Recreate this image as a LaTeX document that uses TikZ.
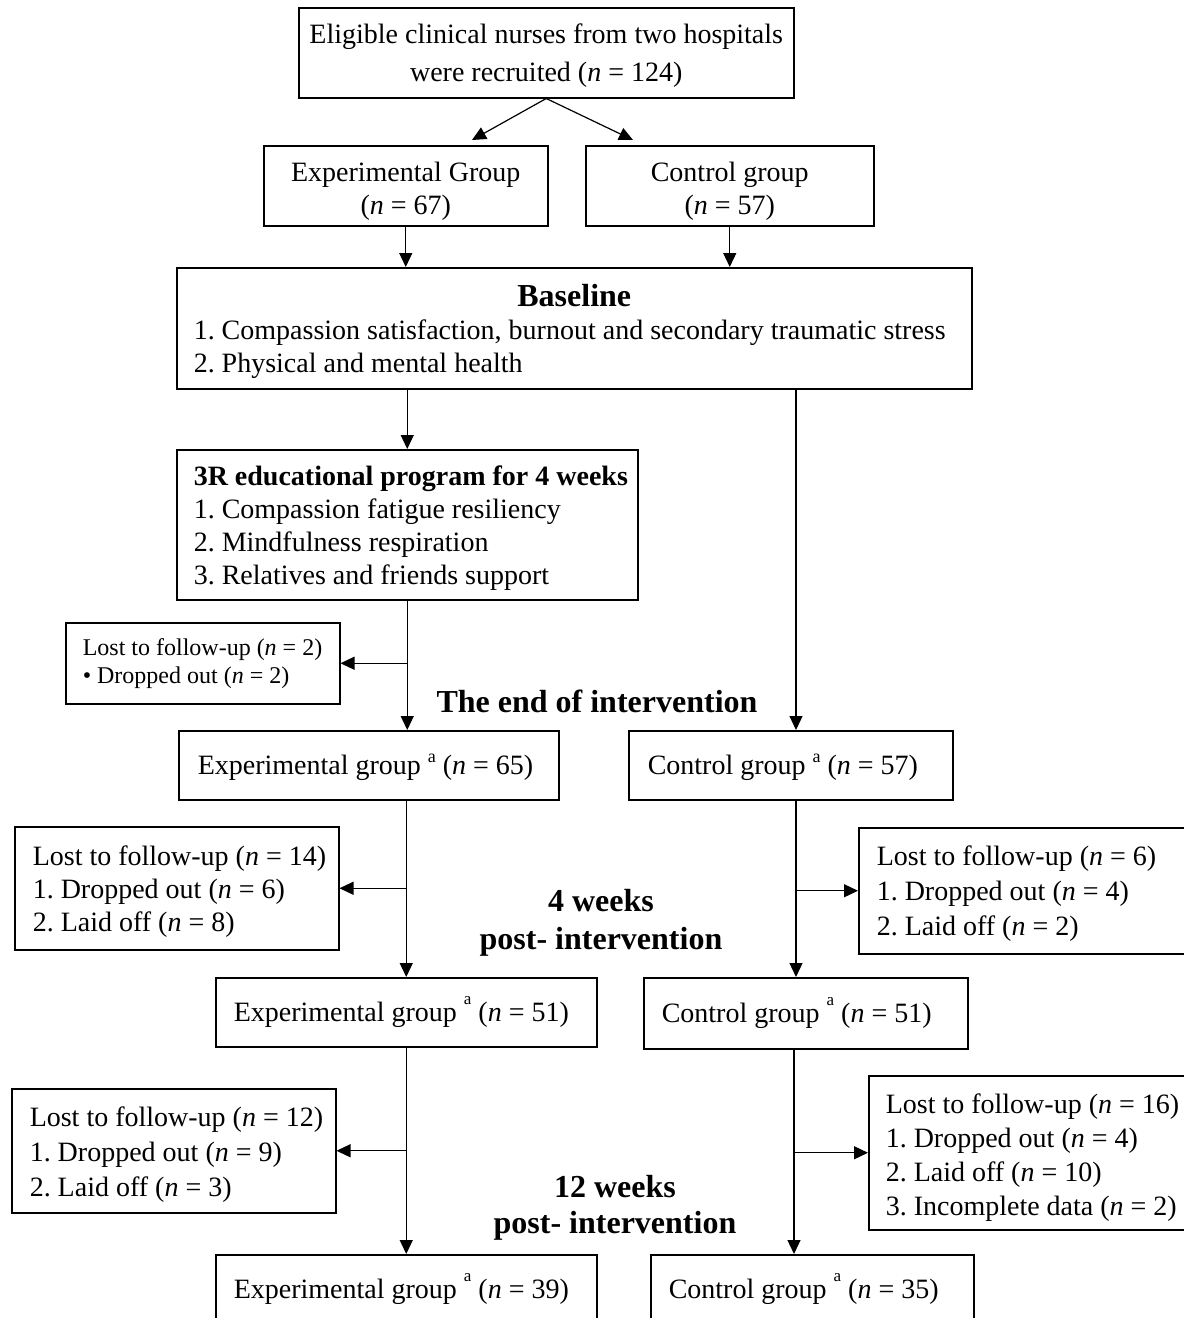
\documentclass[tikz,border=0pt]{standalone}
\usepackage{fontspec}
\setmainfont{Liberation Serif}
\usetikzlibrary{arrows.meta,calc}
\newcommand\fsz[2]{\fontsize{#1}{#2}\selectfont}
\newcommand\tx[1]{\spaceskip=0pt\xspaceskip=0pt\frenchspacing\rule{0pt}{#1}}
\newcommand\supLow{\raisebox{12pt}{\fsz{18}{18}a}}
\newcommand\supHigh{\raisebox{17pt}{\fsz{17}{17}a}}
\tikzset{
  boxc/.style={draw, line width=1.5pt, anchor=north west, inner ysep=0pt, align=center, font=\fsz{28}{33}},
  boxl/.style={draw, line width=1.5pt, anchor=north west, inner ysep=0pt, align=left, font=\fsz{28}{34}},
  arr/.style={line width=1.2pt, -{Triangle[length=14pt,width=13pt]}},
  head/.style={font=\fsz{32}{37}\bfseries, align=center, inner sep=0pt},
}
\begin{document}
\begin{tikzpicture}[x=1pt, y=-1pt]
\useasboundingbox (0,0) rectangle (1184,1318);
\clip (0,0) rectangle (1184,1318);

% boxes
\node[boxc, text width=479pt, inner xsep=8pt, minimum height=90pt, font=\fsz{28}{38}] (top) at (298,7)
  {\tx{25.5pt}\mbox{Eligible clinical nurses from two hospitals}\\\mbox{were recruited (\textit{n} = 124)}};
\node[boxc, text width=264pt, inner xsep=10pt, minimum height=80pt] (expG) at (263,145)
  {\tx{29.5pt}\mbox{Experimental Group}\\\mbox{(\textit{n} = 67)}};
\node[boxc, text width=268pt, inner xsep=10pt, minimum height=80pt] (ctlG) at (585,145)
  {\tx{29.5pt}\mbox{Control group}\\\mbox{(\textit{n} = 57)}};
\node[boxl, text width=761pt, inner xsep=17pt, minimum height=121pt, font=\fsz{28}{33}] (base) at (176,267)
  {\tx{28pt}\makebox[761pt]{\fsz{32}{33}\bfseries Baseline}\\
   \mbox{1. Compassion satisfaction, burnout and secondary traumatic stress}\\
   \mbox{2. Physical and mental health}};
\node[boxl, text width=427pt, inner xsep=17pt, minimum height=150pt, font=\fsz{28}{33}] (prog) at (176,449)
  {\tx{25.5pt}\mbox{\bfseries 3R educational program for 4 weeks}\\
   \mbox{1. Compassion fatigue resiliency}\\
   \mbox{2. Mindfulness respiration}\\
   \mbox{3. Relatives and friends support}};
\node[boxl, text width=240pt, inner xsep=17pt, minimum height=81pt, font=\fsz{24}{28}] (lost1) at (65,622)
  {\tx{0pt}\mbox{Lost to follow-up (\textit{n} = 2)}\\
   \mbox{\textbullet{} Dropped out (\textit{n} = 2)}};
\node[boxl, text width=342pt, inner xsep=19pt, minimum height=69pt] (expA) at (178,730)
  {\tx{24pt}\mbox{Experimental group \supLow{} (\textit{n} = 65)}};
\node[boxl, text width=286pt, inner xsep=19pt, minimum height=69pt] (ctlA) at (628,730)
  {\tx{24pt}\mbox{Control group \supLow{} (\textit{n} = 57)}};
\node[boxl, text width=288pt, inner xsep=18pt, minimum height=123pt, font=\fsz{28}{33}] (lost2) at (14,826)
  {\tx{25.5pt}\mbox{Lost to follow-up (\textit{n} = 14)}\\
   \mbox{1. Dropped out (\textit{n} = 6)}\\
   \mbox{2. Laid off (\textit{n} = 8)}};
\node[boxl, text width=290pt, inner xsep=18pt, minimum height=126pt, font=\fsz{28}{35}] (lost3) at (858,827)
  {\tx{25.5pt}\mbox{Lost to follow-up (\textit{n} = 6)}\\
   \mbox{1. Dropped out (\textit{n} = 4)}\\
   \mbox{2. Laid off (\textit{n} = 2)}};
\node[boxl, text width=345pt, inner xsep=18pt, minimum height=69pt] (expB) at (215,977)
  {\tx{0pt}\mbox{Experimental group \supHigh{} (\textit{n} = 51)}};
\node[boxl, text width=288pt, inner xsep=18pt, minimum height=71pt] (ctlB) at (643,977)
  {\tx{0pt}\mbox{Control group \supHigh{} (\textit{n} = 51)}};
\node[boxl, text width=288pt, inner xsep=18pt, minimum height=124pt, font=\fsz{28}{35}] (lost4) at (11,1088)
  {\tx{27.5pt}\mbox{Lost to follow-up (\textit{n} = 12)}\\
   \mbox{1. Dropped out (\textit{n} = 9)}\\
   \mbox{2. Laid off (\textit{n} = 3)}};
\node[boxl, text width=296pt, inner xsep=17pt, minimum height=154pt, font=\fsz{28}{34}] (lost5) at (868,1075)
  {\tx{29.5pt}\mbox{Lost to follow-up (\textit{n} = 16)}\\
   \mbox{1. Dropped out (\textit{n} = 4)}\\
   \mbox{2. Laid off (\textit{n} = 10)}\\
   \mbox{3. Incomplete data (\textit{n} = 2)}};
\node[boxl, text width=345pt, inner xsep=18pt, minimum height=69pt] (expC) at (215,1254)
  {\tx{0pt}\mbox{Experimental group \supHigh{} (\textit{n} = 39)}};
\node[boxl, text width=287pt, inner xsep=18pt, minimum height=69pt] (ctlC) at (650,1254)
  {\tx{0pt}\mbox{Control group \supHigh{} (\textit{n} = 35)}};

% headings
\node[head] (endint) at (597,701) {The end of intervention};
\node[head, font=\fsz{32}{38}\bfseries] (wk4) at (601,923) {4 weeks\\post- intervention};
\node[head, font=\fsz{32}{36}\bfseries] (wk12) at (615,1208) {12 weeks\\post- intervention};

% connectors
\coordinate (t1) at (472,140);
\coordinate (t2) at (633,140);
\coordinate (rx) at (796,0);
\coordinate (rx2) at (794,0);
\draw[arr] (top.south) -- (t1);
\draw[arr] (top.south) -- (t2);
\draw[arr] (expG.south) -- (expG.south |- base.north);
\draw[arr] (ctlG.south) -- (ctlG.south |- base.north);
\draw[arr] (prog.north |- base.south) -- (prog.north);
\draw[arr] (rx |- base.south) -- (rx |- ctlA.north);
\draw[arr] (prog.south) -- (prog.south |- expA.north);
\draw[arr] (prog.south |- lost1.east) -- (lost1.east);
\draw[arr] (expB.north |- expA.south) -- (expB.north);
\draw[arr] (expB.north |- lost2.east) -- (lost2.east);
\draw[arr] (rx |- ctlA.south) -- (rx |- ctlB.north);
\draw[arr] (rx |- lost3.west) -- (lost3.west);
\draw[arr] (expC.north |- expB.south) -- (expC.north);
\draw[arr] (expC.north |- lost4.east) -- (lost4.east);
\draw[arr] (rx2 |- ctlB.south) -- (rx2 |- ctlC.north);
\draw[arr] (rx2 |- lost5.west) -- (lost5.west);
\end{tikzpicture}
\end{document}
